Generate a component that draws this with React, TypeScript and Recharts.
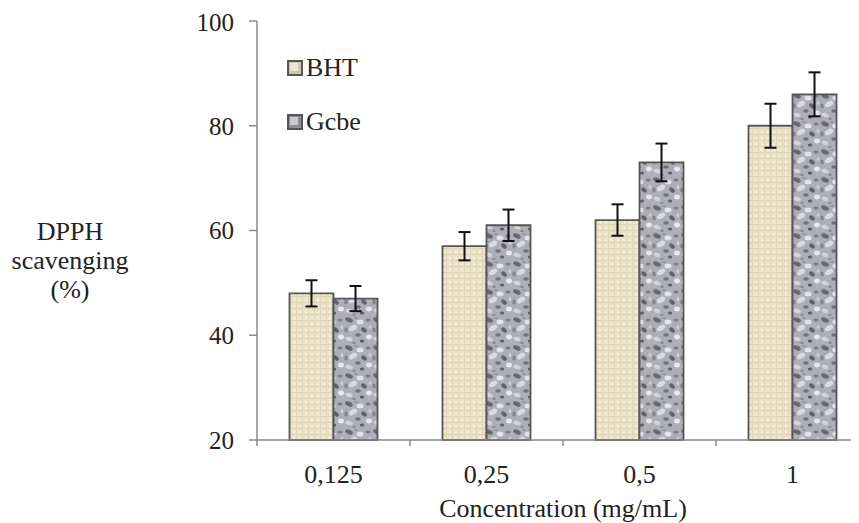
import React from "react";
import { BarChart, Bar, XAxis, YAxis, ErrorBar } from "recharts";

const categories = ["0,125", "0,25", "0,5", "1"];
const bhtValues = [48, 57, 62, 80];
const bhtErrors = [2.5, 2.7, 3, 4.2];
const gcbeValues = [47, 61, 73, 86];
const gcbeErrors = [2.4, 3, 3.6, 4.2];
const yTicks = [20, 40, 60, 80, 100];

const FONT = "'Liberation Serif'";
const CHART_W = 880;
const CHART_H = 515;
const MARGIN = { top: 13, right: 19, bottom: 20, left: 189 };
const Y_AXIS_W = 60;
const PLOT_W = CHART_W - MARGIN.left - MARGIN.right - Y_AXIS_W;
const BAND = PLOT_W / categories.length;

const data = categories.map((c, i) => ({
  name: c,
  BHT: bhtValues[i],
  bhtErr: bhtErrors[i],
  Gcbe: gcbeValues[i],
  gcbeErr: gcbeErrors[i],
}));

const AxisTick = (props: any) => {
  const { x, y, payload } = props;
  const edge = x - BAND / 2;
  return (
    <g>
      <line x1={edge} y1={y - 8} x2={edge} y2={y - 2} stroke="#888" strokeWidth={1.5} />
      <text x={x} y={y + 35} textAnchor="middle" style={{ fontFamily: FONT }} fontSize={26} fill="#222">
        {payload.value}
      </text>
    </g>
  );
};

const XLabel = (props: any) => {
  const { viewBox } = props;
  return (
    <text
      x={viewBox.x + viewBox.width / 2}
      y={viewBox.y + 77}
      textAnchor="middle"
      style={{ fontFamily: FONT }}
      fontSize={26}
      fill="#222"
    >
      Concentration (mg/mL)
    </text>
  );
};

const YLabel = (props: any) => {
  const { viewBox } = props;
  const cx = viewBox.x - 127;
  return (
    <text textAnchor="middle" style={{ fontFamily: FONT }} fontSize={26} fill="#222">
      <tspan x={cx} y={232}>DPPH</tspan>
      <tspan x={cx} y={261}>scavenging</tspan>
      <tspan x={cx} y={290}>(%)</tspan>
    </text>
  );
};

const legendItems = [
  { name: "BHT", fill: "url(#bhtSwatch)" },
  { name: "Gcbe", fill: "url(#gcbeSwatch)" },
];

const LegendBox = () => (
  <div style={{ position: "absolute", left: 279, top: 46, fontFamily: FONT, fontSize: 26, color: "#222" }}>
    {legendItems.map((item, i) => (
      <div key={item.name} style={{ display: "flex", alignItems: "center", height: 28, marginBottom: i === 0 ? 26 : 0 }}>
        <svg width={16} height={16} style={{ marginRight: 3 }}>
          <rect x={1} y={1} width={14} height={14} fill={item.fill} stroke="#555" strokeWidth={2} />
        </svg>
        <span>{item.name}</span>
      </div>
    ))}
  </div>
);

export default function App() {
  return (
    <div style={{ width: 851, height: 515, overflow: "hidden", position: "relative", fontFamily: FONT }}>
      <BarChart
        width={CHART_W}
        height={CHART_H}
        data={data}
        margin={MARGIN}
        barCategoryGap={32.5}
        barGap={0}
        style={{ fontFamily: FONT }}
      >
        <defs>
          <pattern id="bhtFill" width="6" height="6" patternUnits="userSpaceOnUse">
            <rect width="6" height="6" fill="#ebe2c9" />
            <line x1="0" y1="0.5" x2="6" y2="0.5" stroke="#dacfae" strokeWidth="0.8" />
            <line x1="0.5" y1="0" x2="0.5" y2="6" stroke="#e0d5b8" strokeWidth="0.8" />
            <rect x="3" y="3" width="2" height="2" fill="#f5efdc" />
          </pattern>
          <pattern id="gcbeFill" width="28" height="28" patternUnits="userSpaceOnUse">
            <rect width="28" height="28" fill="#aeaeb8" />
            <ellipse cx="5" cy="4" rx="4" ry="2.2" fill="#676772" transform="rotate(25 5 4)" />
            <ellipse cx="16" cy="6" rx="3.5" ry="2.5" fill="#e3e3ea" />
            <ellipse cx="24" cy="4" rx="2.5" ry="1.6" fill="#7a7a85" />
            <ellipse cx="9" cy="12" rx="4.5" ry="2.6" fill="#dadae2" transform="rotate(-30 9 12)" />
            <ellipse cx="20" cy="14" rx="3.2" ry="2" fill="#61616c" transform="rotate(40 20 14)" />
            <ellipse cx="2" cy="14" rx="1.8" ry="2.4" fill="#858590" />
            <ellipse cx="14" cy="19" rx="2.8" ry="1.8" fill="#707079" />
            <ellipse cx="25" cy="21" rx="3" ry="2.4" fill="#e6e6ec" />
            <ellipse cx="5" cy="23" rx="3.6" ry="2" fill="#d4d4dc" transform="rotate(20 5 23)" />
            <ellipse cx="18" cy="25" rx="2.2" ry="1.6" fill="#5d5d67" />
            <ellipse cx="10" cy="27" rx="1.6" ry="1.2" fill="#878791" />
            <ellipse cx="26" cy="11" rx="1.4" ry="2" fill="#cfcfd7" />
            <ellipse cx="12" cy="2" rx="1.5" ry="1" fill="#8c8c96" />
          </pattern>
          <pattern id="bhtSwatch" width="14" height="14" patternUnits="userSpaceOnUse">
            <rect width="14" height="14" fill="#cfc6ac" />
            <rect x="3" y="3" width="8" height="8" fill="#ece6d6" />
          </pattern>
          <pattern id="gcbeSwatch" width="14" height="14" patternUnits="userSpaceOnUse">
            <rect width="14" height="14" fill="#8e8e96" />
            <rect x="3" y="3" width="8" height="8" fill="#c8c8cf" />
          </pattern>
        </defs>
        <XAxis
          dataKey="name"
          height={63}
          axisLine={{ stroke: "#888", strokeWidth: 1.5 }}
          tickLine={false}
          tickSize={6}
          tick={<AxisTick />}
          interval={0}
          label={<XLabel />}
        />
        <YAxis
          width={Y_AXIS_W}
          domain={[20, 100]}
          ticks={yTicks}
          axisLine={{ stroke: "#888", strokeWidth: 1.5 }}
          tickLine={{ stroke: "#888", strokeWidth: 1.5 }}
          tickSize={8}
          tickMargin={15}
          tick={{ style: { fontFamily: FONT }, fontSize: 25, fill: "#222" }}
          label={<YLabel />}
        />
        <Bar dataKey="BHT" fill="url(#bhtFill)" stroke="#555" strokeWidth={1.8} isAnimationActive={false}>
          <ErrorBar dataKey="bhtErr" width={6} stroke="#111" strokeWidth={2} />
        </Bar>
        <Bar dataKey="Gcbe" fill="url(#gcbeFill)" stroke="#555" strokeWidth={1.8} isAnimationActive={false}>
          <ErrorBar dataKey="gcbeErr" width={6} stroke="#111" strokeWidth={2} />
        </Bar>
      </BarChart>
      <LegendBox />
    </div>
  );
}
